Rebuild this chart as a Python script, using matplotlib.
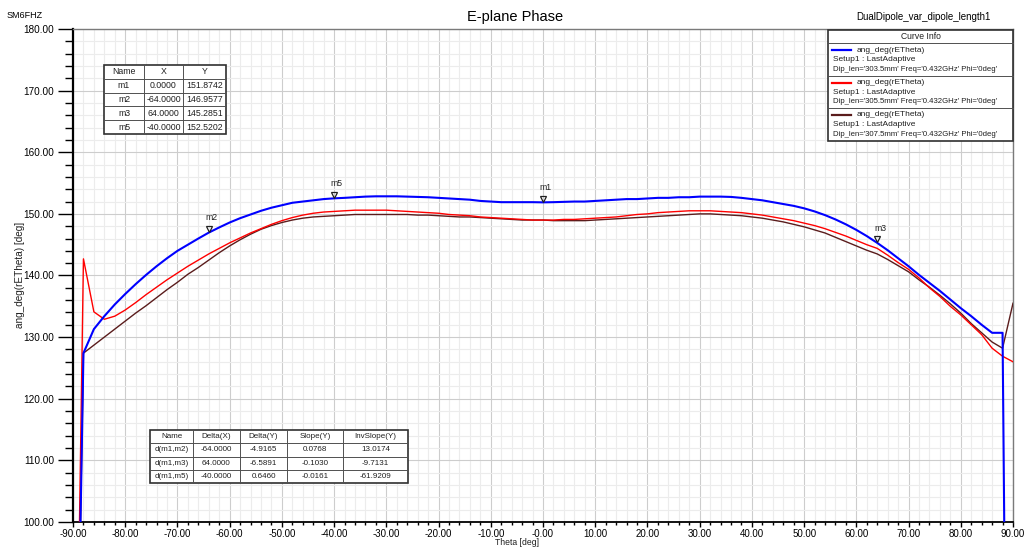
import matplotlib
matplotlib.use("Agg")
import matplotlib.pyplot as plt
from matplotlib.patches import Rectangle
from matplotlib.lines import Line2D
from matplotlib.ticker import MultipleLocator, FixedLocator, FixedFormatter
from matplotlib.transforms import offset_copy

plt.rcParams["font.family"] = ["Liberation Sans", "DejaVu Sans"]
plt.rcParams["axes.unicode_minus"] = False

W, H = 1024, 547

THETA = list(range(-90, 91, 2))

# ang_deg(rETheta), Dip_len = 303.5mm
PHASE_303 = [
    30.0, 127.4, 131.3, 133.4, 135.3, 137.0, 138.6, 140.1, 141.5, 142.8,
    144.0, 145.0, 146.0, 146.96, 147.8, 148.6, 149.3, 149.9, 150.5, 151.0,
    151.4, 151.8, 152.0, 152.2, 152.4, 152.52, 152.6, 152.7, 152.8, 152.85,
    152.85, 152.85, 152.8, 152.75, 152.7, 152.6, 152.5, 152.4, 152.3, 152.1,
    152.0, 151.9, 151.9, 151.9, 151.9, 151.87, 151.9, 151.95, 152.0, 152.0,
    152.1, 152.2, 152.3, 152.4, 152.4, 152.5, 152.6, 152.6, 152.7, 152.7,
    152.8, 152.8, 152.8, 152.75, 152.6, 152.4, 152.2, 151.9, 151.6, 151.3,
    150.9, 150.4, 149.8, 149.1, 148.3, 147.4, 146.4, 145.29, 144.1, 142.8,
    141.5, 140.1, 138.8, 137.5, 136.1, 134.7, 133.4, 132.0, 130.7, 130.7,
    -60.0,
]

# Dip_len = 305.5mm
PHASE_305 = [
    30.0, 142.7, 134.1, 132.9, 133.4, 134.4, 135.6, 136.9, 138.1, 139.3,
    140.4, 141.5, 142.5, 143.5, 144.4, 145.3, 146.1, 146.9, 147.6, 148.3,
    148.9, 149.4, 149.8, 150.1, 150.3, 150.4, 150.5, 150.6, 150.6, 150.6,
    150.6, 150.5, 150.4, 150.3, 150.2, 150.1, 149.9, 149.8, 149.7, 149.5,
    149.4, 149.3, 149.2, 149.1, 149.0, 149.0, 149.0, 149.1, 149.1, 149.2,
    149.3, 149.4, 149.5, 149.7, 149.9, 150.0, 150.2, 150.3, 150.4, 150.5,
    150.5, 150.5, 150.4, 150.3, 150.2, 150.0, 149.8, 149.5, 149.2, 148.9,
    148.5, 148.1, 147.6, 147.0, 146.4, 145.7, 145.0, 144.4, 143.3, 142.1,
    141.0, 139.6, 138.0, 136.6, 135.0, 133.6, 132.0, 130.4, 128.2, 126.9,
    126.0,
]

# Dip_len = 307.5mm
PHASE_307 = [
    30.0, 127.4, 128.7, 130.0, 131.3, 132.6, 133.9, 135.1, 136.4, 137.7,
    138.9, 140.2, 141.3, 142.5, 143.7, 144.8, 145.8, 146.7, 147.5, 148.1,
    148.6, 149.0, 149.3, 149.5, 149.6, 149.7, 149.8, 149.9, 149.9, 149.9,
    149.9, 149.9, 149.9, 149.8, 149.8, 149.7, 149.6, 149.5, 149.5, 149.4,
    149.3, 149.2, 149.1, 149.0, 149.0, 149.0, 148.9, 148.9, 148.9, 148.9,
    149.0, 149.1, 149.2, 149.3, 149.4, 149.5, 149.6, 149.7, 149.8, 149.9,
    150.0, 150.0, 149.9, 149.8, 149.7, 149.5, 149.3, 149.0, 148.7, 148.3,
    147.9, 147.4, 146.9, 146.2, 145.5, 144.8, 144.1, 143.5, 142.6, 141.6,
    140.6, 139.3, 138.1, 136.8, 135.4, 133.9, 132.2, 130.7, 129.2, 128.2,
    135.5,
]

SERIES_NAMES = ["303.5mm", "305.5mm", "307.5mm"]
SERIES_COLORS = ["#0000ff", "#ff0000", "#5a1c1c"]

MARKER_NAMES = ["m1", "m2", "m3", "m5"]
MARKER_X = [0.0, -64.0, 64.0, -40.0]
MARKER_Y = [151.8742, 146.9577, 145.2851, 152.5202]

DELTA_NAMES = ["d(m1,m2)", "d(m1,m3)", "d(m1,m5)"]
DELTA_X = ["-64.0000", "64.0000", "-40.0000"]
DELTA_Y = ["-4.9165", "-6.5891", "0.6460"]
SLOPE_Y = ["0.0768", "-0.1030", "-0.0161"]
INVSLOPE_Y = ["13.0174", "-9.7131", "-61.9209"]

XTICKS = list(range(-90, 91, 10))
XTICK_LABELS = ["-90.00", "-80.00", "-70.00", "-60.00", "-50.00", "-40.00",
                "-30.00", "-20.00", "-10.00", "-0.00", "10.00", "20.00",
                "30.00", "40.00", "50.00", "60.00", "70.00", "80.00", "90.00"]
YTICKS = list(range(100, 181, 10))


def fx(px):
    return px / W


def fy(py):
    return 1 - py / H


def draw_table(fig, col_edges, top, row_h, rows, fontsize):
    n = len(rows)
    x0, x1 = col_edges[0], col_edges[-1]
    bottom = top + n * row_h
    fig.add_artist(Rectangle((fx(x0), fy(bottom)), fx(x1) - fx(x0), fy(top) - fy(bottom),
                             transform=fig.transFigure, facecolor="white",
                             edgecolor="#303030", lw=1.2, zorder=5))
    for i in range(1, n):
        y = fy(top + i * row_h)
        fig.add_artist(Line2D([fx(x0), fx(x1)], [y, y], transform=fig.transFigure,
                              color="#505050", lw=0.7, zorder=6))
    for c in col_edges[1:-1]:
        fig.add_artist(Line2D([fx(c), fx(c)], [fy(top), fy(bottom)], transform=fig.transFigure,
                              color="#505050", lw=0.7, zorder=6))
    for i, row in enumerate(rows):
        yc = fy(top + (i + 0.5) * row_h)
        for j, cell in enumerate(row):
            xc = fx((col_edges[j] + col_edges[j + 1]) / 2)
            fig.text(xc, yc, cell, ha="center", va="center", fontsize=fontsize,
                     color="#202020", zorder=7)


def draw_curve_info(fig):
    x0, x1, top, head = 828, 1013, 30, 43
    entry_h = 32.5
    bottom = head + 3 * entry_h
    fig.add_artist(Rectangle((fx(x0), fy(bottom)), fx(x1) - fx(x0), fy(top) - fy(bottom),
                             transform=fig.transFigure, facecolor="white",
                             edgecolor="#303030", lw=1.2, zorder=5))
    fig.text(fx((x0 + x1) / 2), fy((top + head) / 2), "Curve Info", ha="center",
             va="center", fontsize=6.2, color="#202020", zorder=7)
    for k in range(3):
        t = head + k * entry_h
        fig.add_artist(Line2D([fx(x0), fx(x1)], [fy(t), fy(t)], transform=fig.transFigure,
                              color="#505050", lw=0.7, zorder=6))
        fig.add_artist(Line2D([fx(832), fx(851)], [fy(t + 7), fy(t + 7)],
                              transform=fig.transFigure, color=SERIES_COLORS[k],
                              lw=1.6, zorder=6))
        fig.text(fx(857), fy(t + 7), "ang_deg(rETheta)", va="center", fontsize=6.0,
                 color="#202020", zorder=7)
        fig.text(fx(833), fy(t + 16.5), "Setup1 : LastAdaptive", va="center",
                 fontsize=6.0, color="#202020", zorder=7)
        fig.text(fx(833), fy(t + 26), f"Dip_len='{SERIES_NAMES[k]}' Freq='0.432GHz' Phi='0deg'",
                 va="center", fontsize=5.6, color="#202020", zorder=7)


def main():
    fig = plt.figure(figsize=(W / 100, H / 100), dpi=100)
    ax = fig.add_axes([fx(73), fy(522), fx(1013) - fx(73), fy(29) - fy(522)])

    for vals, color, lw in zip([PHASE_307, PHASE_305, PHASE_303],
                               SERIES_COLORS[::-1], [1.0, 1.0, 1.5]):
        ax.plot(THETA, vals, color=color, lw=lw, zorder=3)

    # markers: open down-triangles with the tip on the curve
    tri_tr = offset_copy(ax.transData, fig=fig, x=0, y=2.6, units="points")
    lab_tr = offset_copy(ax.transData, fig=fig, x=2, y=7.5, units="points")
    for name, mx, my in zip(MARKER_NAMES, MARKER_X, MARKER_Y):
        ax.plot(mx, my, marker="v", ms=5, mfc="none", mec="#202020", mew=0.9,
                transform=tri_tr, zorder=4)
        ax.text(mx, my, name, transform=lab_tr, ha="center", va="bottom",
                fontsize=6.2, color="#202020", zorder=4)

    ax.set_xlim(-90, 90)
    ax.set_ylim(100, 180)
    ax.xaxis.set_major_locator(FixedLocator(XTICKS))
    ax.xaxis.set_major_formatter(FixedFormatter(XTICK_LABELS))
    ax.xaxis.set_minor_locator(MultipleLocator(2))
    ax.yaxis.set_major_locator(FixedLocator(YTICKS))
    ax.yaxis.set_major_formatter(FixedFormatter([f"{v:.2f}" for v in YTICKS]))
    ax.yaxis.set_minor_locator(MultipleLocator(2))

    ax.grid(which="major", color="#cdcdcd", lw=0.8)
    ax.grid(which="minor", color="#ececec", lw=0.8)
    ax.set_axisbelow(True)

    ax.tick_params(axis="y", which="major", length=10.5, width=1.0, pad=3, labelsize=7.2)
    ax.tick_params(axis="y", which="minor", length=5.5, width=1.0)
    ax.tick_params(axis="x", which="major", length=3.5, width=1.0, pad=1.2, labelsize=7.0)
    ax.tick_params(axis="x", which="minor", length=2.2, width=1.0)

    ax.spines["left"].set_linewidth(1.6)
    ax.spines["bottom"].set_linewidth(1.3)
    for s in ["top", "right"]:
        ax.spines[s].set_color("#7a7a7a")
        ax.spines[s].set_linewidth(1.0)

    fig.text(fx(20), fy(275), "ang_deg(rETheta) [deg]", rotation=90, ha="center",
             va="center", fontsize=7.2, color="#202020")
    fig.text(fx(517), fy(547), "Theta [deg]", ha="center", va="bottom", fontsize=6.2,
             color="#202020")

    fig.text(fx(515), fy(17), "E-plane Phase", ha="center", va="center", fontsize=10.5)
    fig.text(fx(7), fy(16), "SM6FHZ", ha="left", va="center", fontsize=6.5)
    fig.text(fx(991), fy(17), "DualDipole_var_dipole_length1", ha="right", va="center",
             fontsize=7.0)

    marker_rows = [["Name", "X", "Y"]] + [
        [n, f"{x:.4f}", f"{y:.4f}"] for n, x, y in zip(MARKER_NAMES, MARKER_X, MARKER_Y)
    ]
    draw_table(fig, [104, 144, 183, 226], 65, 13.8, marker_rows, 6.3)

    delta_rows = [["Name", "Delta(X)", "Delta(Y)", "Slope(Y)", "InvSlope(Y)"]] + [
        list(r) for r in zip(DELTA_NAMES, DELTA_X, DELTA_Y, SLOPE_Y, INVSLOPE_Y)
    ]
    draw_table(fig, [150, 193, 240, 287, 343, 408], 430, 13.3, delta_rows, 5.8)

    draw_curve_info(fig)

    fig.savefig("out.png", dpi=100)
    plt.close(fig)


if __name__ == "__main__":
    main()
